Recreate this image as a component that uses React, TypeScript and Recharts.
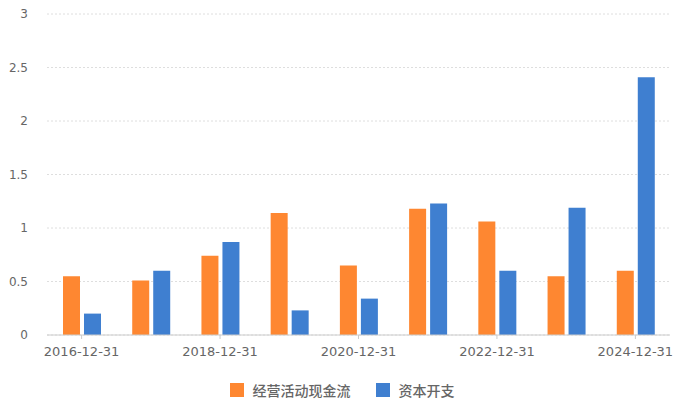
import React from "react";
import { BarChart, Bar, XAxis, YAxis, CartesianGrid, Legend } from "recharts";

const categories = [
  "2016-12-31", "2017-12-31", "2018-12-31", "2019-12-31", "2020-12-31",
  "2021-12-31", "2022-12-31", "2023-12-31", "2024-12-31",
];
const operatingCashFlow = [0.55, 0.51, 0.74, 1.14, 0.65, 1.18, 1.06, 0.55, 0.6];
const capex = [0.2, 0.6, 0.87, 0.23, 0.34, 1.23, 0.6, 1.19, 2.41];
const yTicks = [0, 0.5, 1, 1.5, 2, 2.5, 3];

const seriesNames = ["经营活动现金流", "资本开支"];
const ORANGE = "#fe8731";
const BLUE = "#3f7fd0";

const data = categories.map((c, i) => ({
  date: c,
  ocf: operatingCashFlow[i],
  capex: capex[i],
}));

const LegendContent = () => (
  <div
    style={{
      height: 30,
      display: "flex",
      alignItems: "center",
      justifyContent: "center",
      paddingLeft: 14,
      fontFamily: "'Noto Sans CJK SC', sans-serif",
      fontSize: 14,
      fontWeight: 500,
      color: "#666",
    }}
  >
    <span style={{ width: 14, height: 14, background: ORANGE, display: "inline-block", marginRight: 9 }} />
    <span style={{ marginRight: 25 }}>{seriesNames[0]}</span>
    <span style={{ width: 14, height: 14, background: BLUE, display: "inline-block", marginRight: 9 }} />
    <span>{seriesNames[1]}</span>
  </div>
);

export default function App() {
  return (
    <div style={{ position: "absolute", left: 0, top: 0, width: 688, height: 405, background: "#fff" }}>
      <BarChart
        width={688}
        height={405}
        data={data}
        margin={{ top: 14, right: 18, left: 0, bottom: 0 }}
        barSize={17}
        barGap={4}
      >
        <CartesianGrid vertical={false} stroke="#dedede" strokeDasharray="2 2" />
        <XAxis
          dataKey="date"
          height={40}
          interval={1}
          tickSize={4}
          tickMargin={8}
          axisLine={{ stroke: "#ccc" }}
          tickLine={{ stroke: "#ccc" }}
          tick={{ fill: "#666", fontSize: 13, fontFamily: "'DejaVu Sans', sans-serif" }}
        />
        <YAxis
          width={47}
          domain={[0, 3]}
          ticks={yTicks}
          axisLine={false}
          tickLine={false}
          tickMargin={13}
          tick={{ fill: "#666", fontSize: 12, fontFamily: "'DejaVu Sans', sans-serif" }}
        />
        <Legend verticalAlign="bottom" content={<LegendContent />} />
        <Bar dataKey="ocf" name={seriesNames[0]} fill={ORANGE} isAnimationActive={false} />
        <Bar dataKey="capex" name={seriesNames[1]} fill={BLUE} isAnimationActive={false} />
      </BarChart>
    </div>
  );
}
